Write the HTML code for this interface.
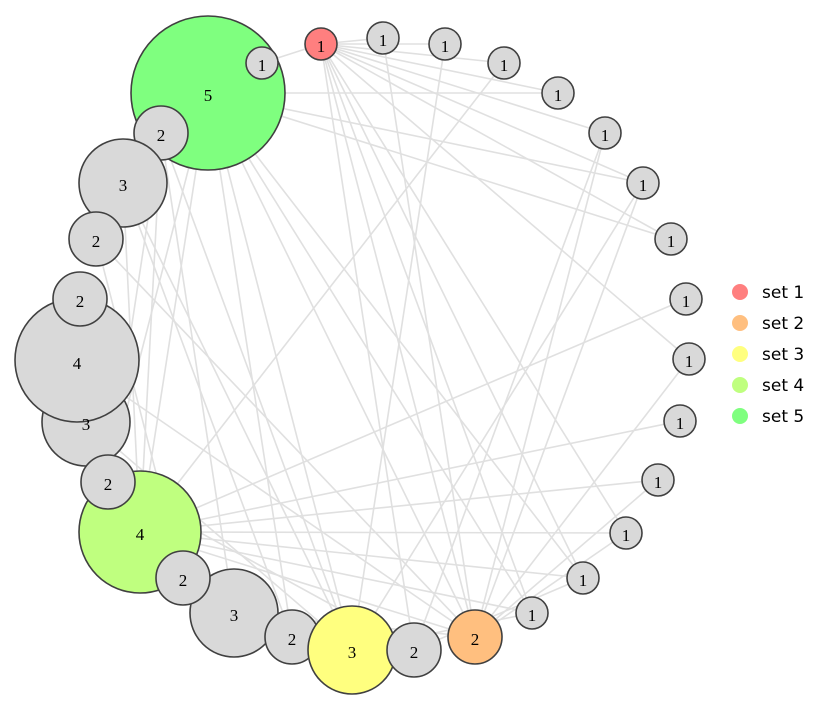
<!DOCTYPE html>
<html><head><meta charset="utf-8"><style>html,body{margin:0;padding:0;background:#fff}svg{display:block}</style></head>
<body>
<svg width="818" height="710" viewBox="0 0 818 710" xmlns="http://www.w3.org/2000/svg">
<g stroke="#e0e0e0" stroke-width="1.6" fill="none">
<line x1="321" y1="44" x2="262" y2="63"/><line x1="321" y1="44" x2="383" y2="38"/><line x1="321" y1="44" x2="445" y2="44"/><line x1="321" y1="44" x2="504" y2="63"/><line x1="321" y1="44" x2="558" y2="93"/><line x1="321" y1="44" x2="605" y2="133"/><line x1="321" y1="44" x2="643" y2="183"/><line x1="321" y1="44" x2="671" y2="239"/><line x1="321" y1="44" x2="689" y2="359"/><line x1="321" y1="44" x2="626" y2="533"/><line x1="321" y1="44" x2="583" y2="578"/><line x1="321" y1="44" x2="532" y2="613"/><line x1="321" y1="44" x2="475" y2="637"/><line x1="321" y1="44" x2="414" y2="650"/>
<line x1="208" y1="93" x2="558" y2="93"/><line x1="208" y1="93" x2="671" y2="239"/><line x1="208" y1="93" x2="643" y2="183"/><line x1="208" y1="93" x2="583" y2="578"/><line x1="208" y1="93" x2="475" y2="637"/><line x1="208" y1="93" x2="352" y2="650"/><line x1="208" y1="93" x2="140" y2="532"/><line x1="208" y1="93" x2="108" y2="482"/><line x1="208" y1="93" x2="292" y2="637"/><line x1="208" y1="93" x2="532" y2="613"/>
<line x1="161" y1="133" x2="234" y2="613"/><line x1="161" y1="133" x2="352" y2="650"/><line x1="161" y1="133" x2="140" y2="532"/><line x1="161" y1="133" x2="108" y2="482"/>
<line x1="123" y1="183" x2="352" y2="650"/><line x1="123" y1="183" x2="292" y2="637"/><line x1="123" y1="183" x2="140" y2="532"/>
<line x1="96" y1="239" x2="183" y2="578"/><line x1="96" y1="239" x2="475" y2="637"/>
<line x1="383" y1="38" x2="475" y2="637"/><line x1="445" y1="44" x2="352" y2="650"/><line x1="504" y1="63" x2="140" y2="532"/><line x1="605" y1="133" x2="414" y2="650"/><line x1="605" y1="133" x2="475" y2="637"/><line x1="643" y1="183" x2="475" y2="637"/><line x1="643" y1="183" x2="352" y2="650"/><line x1="686" y1="299" x2="140" y2="532"/><line x1="689" y1="359" x2="475" y2="637"/><line x1="680" y1="421" x2="140" y2="532"/><line x1="658" y1="480" x2="140" y2="532"/><line x1="658" y1="480" x2="475" y2="637"/><line x1="626" y1="533" x2="140" y2="532"/><line x1="626" y1="533" x2="475" y2="637"/><line x1="583" y1="578" x2="140" y2="532"/><line x1="583" y1="578" x2="414" y2="650"/><line x1="532" y1="613" x2="140" y2="532"/><line x1="532" y1="613" x2="352" y2="650"/>
<line x1="77" y1="363" x2="475" y2="637"/><line x1="86" y1="422" x2="352" y2="650"/><line x1="140" y1="532" x2="475" y2="637"/><line x1="108" y1="482" x2="414" y2="650"/><line x1="234" y1="613" x2="475" y2="637"/>
</g>
<g stroke="#404040" stroke-width="1.6" font-family="Liberation Serif, serif" font-size="17" text-anchor="middle">
<circle cx="208" cy="93" r="77" fill="#7fff7f"/>
<circle cx="262" cy="63" r="16" fill="#d9d9d9"/>
<circle cx="161" cy="133" r="27" fill="#d9d9d9"/>
<circle cx="123" cy="183" r="44" fill="#d9d9d9"/>
<circle cx="96" cy="239" r="27" fill="#d9d9d9"/>
<circle cx="86" cy="422" r="44" fill="#d9d9d9"/>
<circle cx="77" cy="360" r="62" fill="#d9d9d9"/>
<circle cx="80" cy="299" r="27" fill="#d9d9d9"/>
<circle cx="140" cy="532" r="61" fill="#bfff7f"/>
<circle cx="108" cy="482" r="27" fill="#d9d9d9"/>
<circle cx="234" cy="613" r="44" fill="#d9d9d9"/>
<circle cx="183" cy="578" r="27" fill="#d9d9d9"/>
<circle cx="292" cy="637" r="27" fill="#d9d9d9"/>
<circle cx="352" cy="650" r="44" fill="#ffff7f"/>
<circle cx="414" cy="650" r="27" fill="#d9d9d9"/>
<circle cx="475" cy="637" r="27" fill="#ffbf7f"/>
<circle cx="321" cy="44" r="16" fill="#ff7f7f"/>
<circle cx="383" cy="38" r="16" fill="#d9d9d9"/><circle cx="445" cy="44" r="16" fill="#d9d9d9"/><circle cx="504" cy="63" r="16" fill="#d9d9d9"/><circle cx="558" cy="93" r="16" fill="#d9d9d9"/><circle cx="605" cy="133" r="16" fill="#d9d9d9"/><circle cx="643" cy="183" r="16" fill="#d9d9d9"/><circle cx="671" cy="239" r="16" fill="#d9d9d9"/><circle cx="686" cy="299" r="16" fill="#d9d9d9"/><circle cx="689" cy="359" r="16" fill="#d9d9d9"/><circle cx="680" cy="421" r="16" fill="#d9d9d9"/><circle cx="658" cy="480" r="16" fill="#d9d9d9"/><circle cx="626" cy="533" r="16" fill="#d9d9d9"/><circle cx="583" cy="578" r="16" fill="#d9d9d9"/><circle cx="532" cy="613" r="16" fill="#d9d9d9"/>
<g stroke="none" fill="#000">
<text x="208" y="101">5</text><text x="262" y="71">1</text><text x="161" y="141">2</text><text x="123" y="191">3</text><text x="96" y="247">2</text><text x="86" y="430">3</text><text x="77" y="369">4</text><text x="80" y="307">2</text><text x="140" y="540">4</text><text x="108" y="490">2</text><text x="234" y="621">3</text><text x="183" y="586">2</text><text x="292" y="645">2</text><text x="352" y="658">3</text><text x="414" y="658">2</text><text x="475" y="645">2</text>
<text x="321" y="52">1</text><text x="383" y="46">1</text><text x="445" y="52">1</text><text x="504" y="71">1</text><text x="558" y="101">1</text><text x="605" y="141">1</text><text x="643" y="191">1</text><text x="671" y="247">1</text><text x="686" y="307">1</text><text x="689" y="367">1</text><text x="680" y="429">1</text><text x="658" y="488">1</text><text x="626" y="541">1</text><text x="583" y="586">1</text><text x="532" y="621">1</text>
</g></g>
<g font-family="DejaVu Sans, Liberation Sans, sans-serif" font-size="17" fill="#000">
<circle cx="740" cy="292" r="8" fill="#ff7f7f"/><text x="762" y="298">set 1</text>
<circle cx="740" cy="323" r="8" fill="#ffbf7f"/><text x="762" y="329">set 2</text>
<circle cx="740" cy="354" r="8" fill="#ffff7f"/><text x="762" y="360">set 3</text>
<circle cx="740" cy="385" r="8" fill="#bfff7f"/><text x="762" y="391">set 4</text>
<circle cx="740" cy="416" r="8" fill="#7fff7f"/><text x="762" y="422">set 5</text>
</g>
</svg>
</body></html>
